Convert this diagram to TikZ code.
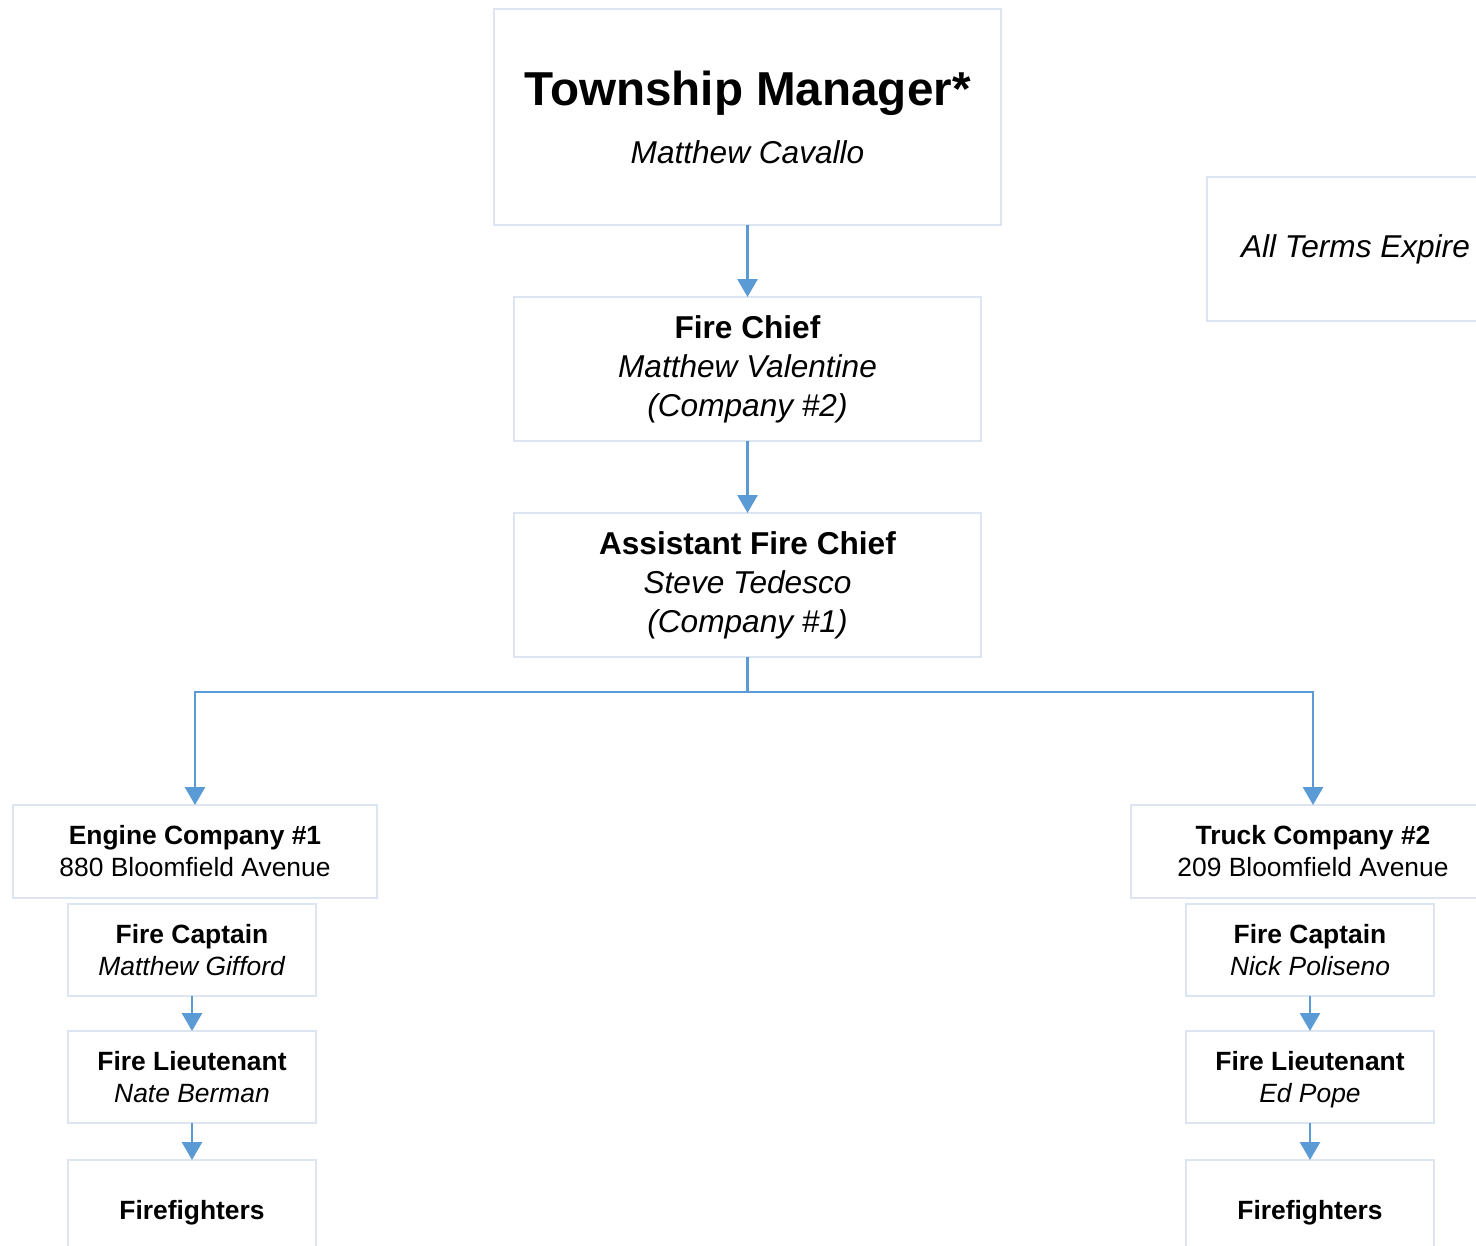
\documentclass[tikz,border=0pt]{standalone}
\usepackage{fontspec}
\setmainfont{Liberation Sans}
\usetikzlibrary{positioning,arrows.meta}

\definecolor{boxline}{RGB}{221,228,242}
\definecolor{linkblue}{RGB}{91,155,213}

\tikzset{
  unit box/.style={draw=boxline,line width=1pt,fill=white,align=center,
    inner sep=0pt,outer sep=0pt},
  main font/.style={font=\fontsize{15.8}{19.5}\selectfont},
  small font/.style={font=\fontsize{13.2}{16}\selectfont},
  link/.style={draw=linkblue,line width=1.4pt,-{Triangle[width=10pt,length=9pt]}}
}

\begin{document}
\begin{tikzpicture}[x=0.5pt,y=-0.5pt,
  top node/.style={unit box,font=\fontsize{15.8}{29}\selectfont,
    minimum width=253.5pt,minimum height=108pt},
  chief node/.style={unit box,main font,minimum width=233.5pt,minimum height=72pt},
  company node/.style={unit box,small font,minimum width=182pt,minimum height=46.5pt},
  rank node/.style={unit box,small font,text depth=0pt,minimum width=124pt,minimum height=46pt}]
  \useasboundingbox (0,0) rectangle (1476,1246);
  \clip (0,0) rectangle (1476,1246);

  % chain of command
  \node[top node] (tm) at (747.5,117)
    {{\fontsize{23.8}{29}\selectfont\bfseries Township Manager*}\\\textit{Matthew Cavallo}};
  \node[chief node] (fc) [below=36pt of tm]
    {\textbf{Fire Chief}\\\textit{Matthew Valentine}\\\textit{(Company \#2)}};
  \node[chief node] (afc) [below=36pt of fc]
    {\textbf{Assistant Fire Chief}\\\textit{Steve Tedesco}\\\textit{(Company \#1)}};
  \node[unit box,main font,anchor=west,inner xsep=17pt,minimum height=72pt] (terms)
    at (1207,249) {\textit{All Terms Expire}};

  % companies
  \node[company node] (eng) at (195,851.5)
    {\textbf{Engine Company \#1}\\880 Bloomfield Avenue};
  \node[company node] (truck) at (1313,851.5)
    {\textbf{Truck Company \#2}\\209 Bloomfield Avenue};

  \node[rank node] (cap1) [below=3pt of eng,xshift=-1.5pt]
    {\textbf{Fire Captain}\\\textit{Matthew Gifford}};
  \node[rank node] (lt1) [below=17.5pt of cap1]
    {\textbf{Fire Lieutenant}\\\textit{Nate Berman}};
  \node[rank node,minimum height=50pt] (ff1) [below=18.5pt of lt1] {\textbf{Firefighters}};

  \node[rank node] (cap2) [below=3pt of truck,xshift=-1.5pt]
    {\textbf{Fire Captain}\\\textit{Nick Poliseno}};
  \node[rank node] (lt2) [below=17.5pt of cap2]
    {\textbf{Fire Lieutenant}\\\textit{Ed Pope}};
  \node[rank node,minimum height=50pt] (ff2) [below=18.5pt of lt2] {\textbf{Firefighters}};

  \coordinate (split) at (747.5,692);

  \draw[link] (tm) -- (fc);
  \draw[link] (fc) -- (afc);
  \draw[link] (afc.south) -- (split) -| (eng.north);
  \draw[link] (afc.south) -- (split) -| (truck.north);
  \draw[link] (cap1) -- (lt1);
  \draw[link] (lt1) -- (ff1);
  \draw[link] (cap2) -- (lt2);
  \draw[link] (lt2) -- (ff2);
\end{tikzpicture}
\end{document}
